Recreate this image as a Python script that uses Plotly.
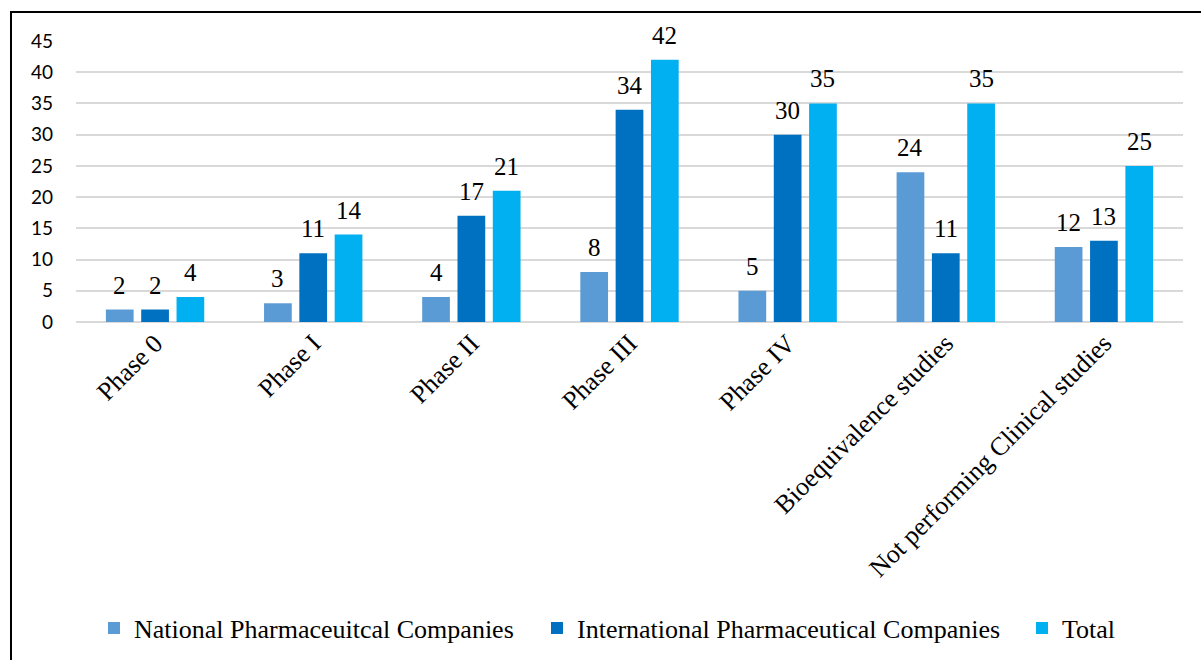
import plotly.graph_objects as go

categories = ["Phase 0", "Phase I", "Phase II", "Phase III", "Phase IV",
              "Bioequivalence studies", "Not performing Clinical studies"]
national = [2, 3, 4, 8, 5, 24, 12]
international = [2, 11, 17, 34, 30, 11, 13]
total = [4, 14, 21, 42, 35, 35, 25]
y_ticks = [0, 5, 10, 15, 20, 25, 30, 35, 40, 45]

series = [
    ("National Pharmaceuitcal Companies", national, "#5B9BD5"),
    ("International Pharmaceutical Companies", international, "#0070C0"),
    ("Total", total, "#00B0F0"),
]

SERIF = "Liberation Serif"
W, H = 1201, 660
L, R, T, B = 76, 18, 41, 338
PW, PH = W - L - R, H - T - B
BARGAP, GROUPGAP = 0.33, 0.215

# pixel width of one bar slot inside a category group
slot = PW / len(categories) * (1 - BARGAP) / len(series)

legend_left = [94, 537, 1022]   # left edge of each legend box, px
legend_ids = ["legend", "legend2", "legend3"]

fig = go.Figure()
for i, (name, vals, color) in enumerate(series):
    fig.add_trace(go.Bar(
        x=categories, y=vals, name=name,
        marker=dict(color=color, line=dict(width=0)),
        legend=legend_ids[i],
    ))
    offset = (i - (len(series) - 1) / 2) * slot
    for cat, v in zip(categories, vals):
        fig.add_annotation(
            x=cat, y=v, text=str(v), showarrow=False,
            xanchor="center", yanchor="bottom", xshift=offset, yshift=9,
            font=dict(family=SERIF, size=25, color="#000000"),
        )

# outer chart frame (extends past the right and bottom page edges)
fig.add_shape(type="rect", xref="paper", yref="paper",
              x0=(11 - L) / PW, x1=(W + 10 - L) / PW,
              y0=-(H + 10 - T - PH) / PH, y1=1 + (T - 12) / PH,
              line=dict(color="#000000", width=2), fillcolor="rgba(0,0,0,0)",
              layer="below")

legend_style = dict(orientation="h", xanchor="left", yanchor="middle",
                    y=-(628 - T - PH) / PH, bgcolor="rgba(0,0,0,0)",
                    font=dict(family=SERIF, size=26, color="#000000"),
                    itemwidth=30)
legends = {}
for lid, px in zip(legend_ids, legend_left):
    legends[lid] = dict(legend_style, x=(px - L) / PW)

fig.update_layout(
    width=W, height=H,
    margin=dict(l=L, r=R, t=T, b=B, pad=0, autoexpand=False),
    paper_bgcolor="white", plot_bgcolor="white",
    barmode="group", bargap=BARGAP, bargroupgap=GROUPGAP,
    showlegend=True,
    xaxis=dict(tickangle=-45, tickfont=dict(family=SERIF, size=26, color="#000000"),
               showgrid=False, showline=False, ticks=""),
    yaxis=dict(range=[0, 45], tickvals=y_ticks, showgrid=True, gridcolor="#D9D9D9",
               gridwidth=1.5, zeroline=True, zerolinecolor="#D9D9D9", zerolinewidth=1.5,
               showline=False, ticks="", ticklabelstandoff=22,
               tickfont=dict(family="Lato", size=19, color="#000000")),
    **legends,
)

fig.write_html("out.html")
